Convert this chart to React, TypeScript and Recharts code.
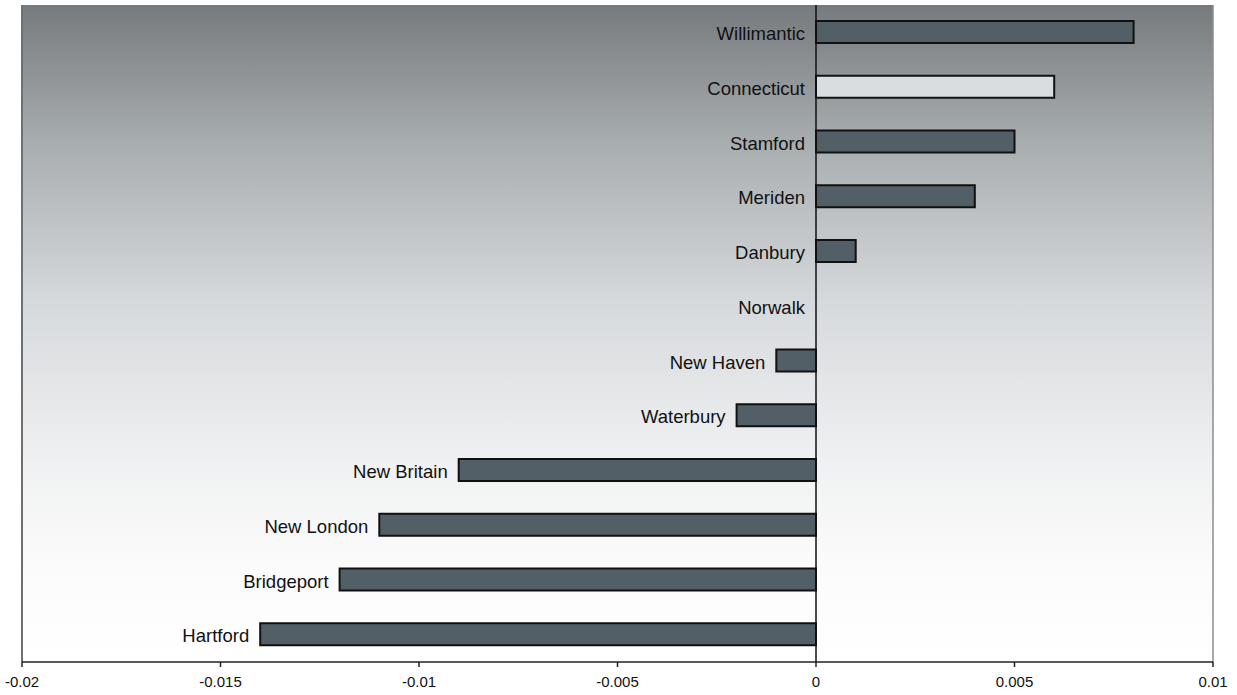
import React from "react";
import {
  BarChart,
  Bar,
  XAxis,
  YAxis,
  Cell,
  LabelList,
  ReferenceLine,
  CartesianGrid,
} from "recharts";

const cities = [
  "Willimantic",
  "Connecticut",
  "Stamford",
  "Meriden",
  "Danbury",
  "Norwalk",
  "New Haven",
  "Waterbury",
  "New Britain",
  "New London",
  "Bridgeport",
  "Hartford",
];

const change = [
  0.008, 0.006, 0.005, 0.004, 0.001, 0, -0.001, -0.002, -0.009, -0.011, -0.012,
  -0.014,
];

const xTicks = [-0.02, -0.015, -0.01, -0.005, 0, 0.005, 0.01];

const highlight = "Connecticut";

const data = cities.map((city, i) => ({ city, value: change[i] }));

const font = "'Liberation Sans', Arial, sans-serif";

const CityLabel = (props: any) => {
  const { x, y, width, height, value } = props;
  const left = Math.min(x, x + (width || 0));
  return (
    <text
      x={left - 11}
      y={y + height / 2 + 1.5}
      textAnchor="end"
      dominantBaseline="central"
      fontSize={18.5}
      fontFamily={font}
      fill="#111"
    >
      {value}
    </text>
  );
};

// zero-value rows get a 1px invisible bar so the label still has a position
const minSize = (v: number) => (v === 0 ? 1 : 0);

const App = () => (
  <div style={{ position: "absolute", left: 0, top: 0 }}>
    <BarChart
      width={1237}
      height={695}
      data={data}
      layout="vertical"
      margin={{ top: 5, right: 24, bottom: 3, left: 22 }}
      barSize={22}
    >
      <defs>
        <linearGradient id="bg" x1="0" y1="0" x2="0" y2="1">
          <stop offset="0%" stopColor="#767a7d" />
          <stop offset="20%" stopColor="#a6abae" />
          <stop offset="45%" stopColor="#d6d9dc" />
          <stop offset="70%" stopColor="#f0f1f2" />
          <stop offset="85%" stopColor="#fbfbfb" />
          <stop offset="100%" stopColor="#ffffff" />
        </linearGradient>
      </defs>
      <CartesianGrid
        fill="url(#bg)"
        horizontal={false}
        vertical={false}
        stroke="none"
      />
      <XAxis
        type="number"
        domain={[-0.02, 0.01]}
        ticks={xTicks}
        allowDataOverflow
        axisLine={{ stroke: "#222", strokeWidth: 1.5 }}
        tickLine={{ stroke: "#222", strokeWidth: 1.5 }}
        tickSize={5}
        tickMargin={9}
        tick={{ fontSize: 15, fontFamily: font, fill: "#111" }}
      />
      <YAxis type="category" dataKey="city" hide />
      <ReferenceLine x={-0.02} stroke="#707070" strokeWidth={2} />
      <ReferenceLine x={0.01} stroke="#8c8c8c" strokeWidth={1.5} />
      <Bar
        dataKey="value"
        fill="#535f66"
        stroke="#111"
        strokeWidth={2}
        minPointSize={minSize as any}
        isAnimationActive={false}
      >
        {data.map((d) => (
          <Cell
            key={d.city}
            fill={
              d.value === 0
                ? "none"
                : d.city === highlight
                ? "#d9dde0"
                : "#535f66"
            }
            stroke={d.value === 0 ? "none" : "#111"}
          />
        ))}
        <LabelList dataKey="city" content={CityLabel} />
      </Bar>
      <ReferenceLine x={0} stroke="#111" strokeWidth={1.5} />
    </BarChart>
  </div>
);

export default App;
